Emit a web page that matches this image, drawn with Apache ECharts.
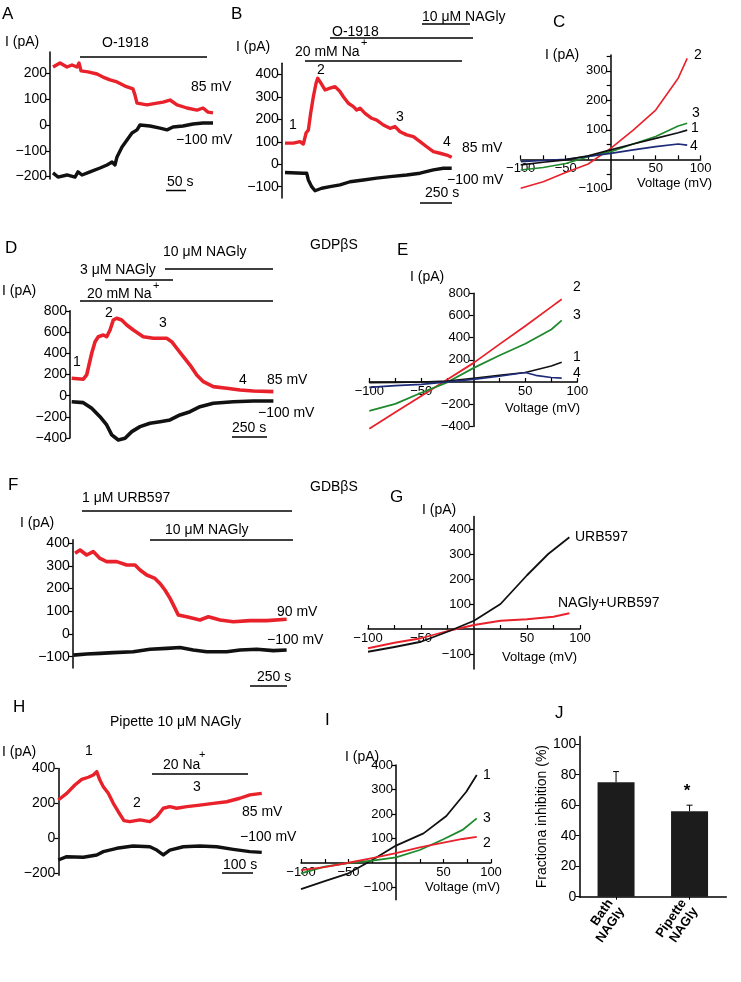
<!DOCTYPE html>
<html><head><meta charset="utf-8">
<script src="https://cdn.jsdelivr.net/npm/echarts@6/dist/echarts.min.js"></script>
<style>html,body{margin:0;padding:0;background:#fff}#c{width:741px;height:982px}</style>
</head><body><div id="c"></div>
<script>
// ---------------- DATA ----------------
// Panel A (time s, current pA)
const A_red_t = [7.5,25,42.5,55,67.5,72.5,77.5,95,117.5,132.5,150,167.5,187.5,207.5,212.5,217.5,242.5,267.5,282.5,300,317.5,342.5,367.5,382.5,395,407.5];
const A_red_v = [225,241,225,233,225,241,210,206,198,186,175,167,151,140,116,85,78,85,89,97,78,66,58,66,50,47];
const A_black_t = [7.5,20,42.5,62.5,70,80,100,125,142.5,155,162.5,167.5,180,192.5,205,217.5,225,250,275,292.5,307.5,332.5,357.5,382.5,407.5];
const A_black_v = [-186,-202,-194,-202,-182,-194,-182,-167,-155,-144,-155,-124,-85,-58,-31,-19,0,-4,-12,-19,-8,-4,4,8,8];
// Panel B
const B_red_t = [0,65,117,143,164,182,200,221,242,255,273,312,351,390,429,455,494,533,559,585,624,676,715,767,819,858,897,949,1001,1053,1105,1157,1209,1261,1300];
const B_red_v = [94,94,101,90,139,153,227,301,361,383,368,331,339,346,324,301,272,257,242,250,227,205,197,175,160,168,145,131,123,101,78,56,49,41,31];
const B_black_t = [0,143,169,182,208,234,286,351,429,507,611,715,819,949,1053,1157,1235,1300];
const B_black_v = [-37,-40,-40,-70,-100,-118,-107,-100,-92,-78,-70,-62,-55,-48,-40,-25,-18,-18];
// Panel C (voltage mV, current pA)
const C_mV = [-100,-75,-50,-25,0,25,50,75,85];
const C_red = [-98,-76,-45,-16,37,99,167,275,342];
const C_green = [-36,-28,-14,9,26,52,77,113,122];
const C_black = [-19,-10,-2,12,32,52,71,90,99];
const C_blue = [-8,-4,0,10,20,32,43,52,48];
// Panel D
const D_red_t = [12,95,119,155,179,202,238,262,286,309,333,369,405,452,523,595,690,726,762,809,857,905,952,1023,1119,1214,1309,1452];
const D_red_v = [164,155,195,400,509,556,572,556,619,713,730,713,666,619,556,541,541,509,447,368,289,195,132,85,70,54,44,38];
const D_black_t = [12,95,155,214,262,298,345,393,441,500,571,643,714,785,857,928,1023,1166,1309,1452];
const D_black_v = [-57,-66,-119,-198,-276,-370,-418,-402,-339,-292,-260,-245,-229,-182,-151,-104,-72,-57,-50,-50];
// Panel E
const E_mV = [-100,-75,-50,-25,0,25,50,75,85];
const E_red = [-421,-273,-126,22,170,339,505,677,745];
const E_green = [-261,-197,-97,-3,125,239,345,473,555];
const E_black = [-6,-3,0,9,34,61,85,145,179];
const E_blue_mV = [-100,-75,-50,-25,0,25,40,50,60,75,85];
const E_blue = [-48,-33,-21,0,24,52,72,85,60,40,35];
// Panel F
const F_red_t = [16,50,95,140,186,232,300,368,425,459,505,561,595,629,664,698,720,777,868,925,1005,1095,1209,1323,1459];
const F_red_v = [356,370,348,363,333,319,319,304,304,282,260,245,223,194,157,113,84,76,62,76,62,54,59,59,65];
const F_black_t = [4,95,186,277,413,527,641,732,822,914,1050,1141,1255,1368,1459];
const F_black_v = [-93,-88,-85,-82,-78,-67,-63,-59,-70,-78,-78,-70,-67,-73,-70];
// Panel G
const G_black_mV = [-100,-75,-50,-25,0,25,50,70,90];
const G_black = [-91,-72,-51,-11,33,100,215,300,367];
const G_red_mV = [-100,-75,-50,-25,0,25,50,75,90];
const G_red = [-77,-55,-37,-8,16,33,39,49,63];
// Panel H
const H_red_t = [0,27,53,75,96,112,123,133,144,160,176,192,210,229,261,293,315,336,357,379,411,453,496,539,581,613,651];
const H_red_v = [220,258,306,338,350,363,382,334,296,258,201,153,102,96,106,96,125,173,182,173,182,191,201,210,230,249,258];
const H_black_t = [0,27,80,123,144,187,239,293,315,336,357,400,453,507,560,613,651];
const H_black_v = [-123,-104,-107,-94,-75,-56,-43,-47,-66,-94,-66,-47,-43,-47,-62,-75,-79];
// Panel I
const I_black_mV = [-100,-75,-50,-25,0,29,53,74,85];
const I_black = [-107,-74,-42,12,71,121,192,291,359];
const I_green_mV = [-100,-75,-50,-25,0,25,50,70,85];
const I_green = [-42,-15,0,10,23,53,97,135,182];
const I_red_mV = [-100,-75,-50,-25,0,25,50,70,85];
const I_red = [-29,-17,1,20,40,64,83,98,107];
// Panel J
const J_cats = ['Bath\nNAGly', 'Pipette\nNAGly'];
const J_vals = [75, 56];
const J_err = [7, 4];

// ---------------- BUILD ----------------
const FONT = '"Liberation Sans", Arial, sans-serif';
const RED = '#e8212a', BLACK = '#111111', GREEN = '#1e8a2c', BLUE = '#1d2a78';
const grids = [], xAxes = [], yAxes = [], series = [], graphics = [];
const zip = (a, b) => a.map((v, i) => [v, b[i]]);
const minus = v => String(v).replace('-', '\u2212');

function addGrid(g, xa, ya) {
  grids.push(Object.assign({ outerBoundsMode: 'none', containLabel: false }, g));
  const i = grids.length - 1;
  xAxes.push(Object.assign({ gridIndex: i }, xa));
  yAxes.push(Object.assign({ gridIndex: i }, ya));
  return i;
}
const axLine = { show: true, lineStyle: { color: '#000', width: 1.5 } };
function tracePanel(box, xr, yr, labels, ticks) {
  return addGrid(box,
    { type: 'value', min: xr[0], max: xr[1], show: false },
    { type: 'value', min: yr[0], max: yr[1],
      axisLine: Object.assign({ onZero: false }, axLine),
      axisTick: { show: true, length: 4, inside: false, customValues: ticks || labels, lineStyle: { color: '#000', width: 1.2 } },
      axisLabel: { customValues: labels, formatter: minus, fontSize: 14, color: '#000', fontFamily: FONT, margin: 3 },
      splitLine: { show: false } });
}
// IV panels: both axes cross at (0 mV, 0 pA); shift each axis with an offset to the zero of the other
function ivPanel(box, xr, yr, xl, yl, xt, yt) {
  const yZeroFromBottom = (0 - yr[0]) / (yr[1] - yr[0]) * box.height;
  const xZeroFromLeft = (0 - xr[0]) / (xr[1] - xr[0]) * box.width;
  return addGrid(box,
    { type: 'value', min: xr[0], max: xr[1], position: 'bottom', offset: -yZeroFromBottom,
      axisLine: Object.assign({ onZero: false }, axLine),
      axisTick: { show: true, length: 4, inside: true, customValues: xt, lineStyle: { color: '#000', width: 1.2 } },
      axisLabel: { customValues: xl, formatter: minus, fontSize: 13, color: '#000', fontFamily: FONT, margin: 3 },
      splitLine: { show: false } },
    { type: 'value', min: yr[0], max: yr[1], position: 'left', offset: -xZeroFromLeft,
      axisLine: Object.assign({ onZero: false }, axLine),
      axisTick: { show: true, length: 4, inside: false, customValues: yt, lineStyle: { color: '#000', width: 1.2 } },
      axisLabel: { customValues: yl, formatter: minus, fontSize: 13, color: '#000', fontFamily: FONT, margin: 3 },
      splitLine: { show: false } });
}
function line(gi, data, color, w) {
  series.push({ type: 'line', xAxisIndex: gi, yAxisIndex: gi, data: data, showSymbol: false, symbol: 'none',
    clip: false, lineStyle: { color: color, width: w, join: 'round' }, itemStyle: { color: color }, animation: false });
}
function txt(x, y, s, o) {
  o = o || {};
  graphics.push({ type: 'text', x: x, y: y, silent: true,
    style: { text: s, fill: '#000', font: (o.bold ? 'bold ' : '') + (o.size || 14) + 'px ' + FONT,
      textAlign: o.align || 'left', textVerticalAlign: 'middle' } });
}
function hbar(x1, x2, y, w) {
  graphics.push({ type: 'line', silent: true, shape: { x1: x1, y1: y, x2: x2, y2: y }, style: { stroke: '#000', lineWidth: w || 1.5 } });
}

// Panel A
const gA = tracePanel({ left: 50, top: 52.1, width: 164.8, height: 127 }, [0, 412], [-210, 283], [-200, -100, 0, 100, 200]);
line(gA, zip(A_red_t, A_red_v), RED, 3.4);
line(gA, zip(A_black_t, A_black_v), BLACK, 3.4);
txt(2, 14, 'A', { size: 17 }); txt(5, 42, 'I (pA)');
txt(102, 43, 'O-1918'); hbar(80, 207, 57);
txt(191, 87, '85 mV'); txt(176, 140, '\u2212100 mV');
txt(167, 182, '50 s'); hbar(166, 186, 190.5);

// Panel B
const gB = tracePanel({ left: 281.8, top: 63.3, width: 171.2, height: 134.6 }, [-25, 1310], [-150, 450], [-100, 0, 100, 200, 300, 400]);
line(gB, zip(B_red_t, B_red_v), RED, 3.4);
line(gB, zip(B_black_t, B_black_v), BLACK, 3.4);
txt(231, 14, 'B', { size: 17 }); txt(236, 47, 'I (pA)');
txt(422, 17, '10 \u03bcM NAGly'); hbar(422, 470, 24);
txt(332, 32, 'O-1918'); hbar(330, 473, 38);
txt(295, 52, '20 mM Na'); txt(361, 43, '+', { size: 11 }); hbar(305, 462, 61);
txt(293, 125, '1', { align: 'center' }); txt(321, 70, '2', { align: 'center' });
txt(400, 117, '3', { align: 'center' }); txt(447, 142, '4', { align: 'center' });
txt(462, 148, '85 mV'); txt(447, 180, '\u2212100 mV');
txt(425, 193, '250 s'); hbar(420, 452, 203);

// Panel C
const gC = ivPanel({ left: 520.7, top: 54.9, width: 180, height: 133.9 }, [-100, 100], [-100, 354],
  [-100, -50, 50, 100], [-100, 100, 200, 300], [-100, -75, -50, -25, 25, 50, 75, 100], [-100, -50, 50, 100, 150, 200, 250, 300, 350]);
line(gC, zip(C_mV, C_red), RED, 1.6);
line(gC, zip(C_mV, C_green), GREEN, 1.6);
line(gC, zip(C_mV, C_blue), BLUE, 1.6);
line(gC, zip(C_mV, C_black), BLACK, 1.6);
txt(553, 22, 'C', { size: 17 }); txt(545, 55, 'I (pA)');
txt(698, 55, '2', { align: 'center' }); txt(696, 113, '3', { align: 'center' });
txt(695, 128, '1', { align: 'center' }); txt(694, 146, '4', { align: 'center' });
txt(637, 183, 'Voltage (mV)', { size: 13 });

// Panel D
const gD = tracePanel({ left: 70, top: 310.8, width: 204.5, height: 127.3 }, [0, 1460], [-400, 800], [-400, -200, 0, 200, 400, 600, 800]);
line(gD, zip(D_red_t, D_red_v), RED, 3.6);
line(gD, zip(D_black_t, D_black_v), BLACK, 3.6);
txt(5, 248, 'D', { size: 17 });
txt(163, 252, '10 \u03bcM NAGly'); hbar(165, 273, 269);
txt(80, 270, '3 \u03bcM NAGly'); hbar(105, 173, 280);
txt(2, 291, 'I (pA)');
txt(87, 294, '20 mM Na'); txt(153, 286, '+', { size: 11 }); hbar(80, 273, 301);
txt(310, 245, 'GDP\u03b2S');
txt(77, 362, '1', { align: 'center' }); txt(109, 313, '2', { align: 'center' });
txt(163, 323, '3', { align: 'center' }); txt(243, 380, '4', { align: 'center' });
txt(267, 380, '85 mV'); txt(258, 413, '\u2212100 mV');
txt(232, 428, '250 s'); hbar(232, 267, 437);

// Panel E
const gE = ivPanel({ left: 369.3, top: 293.2, width: 208, height: 133.2 }, [-100, 100], [-400, 800],
  [-100, -50, 50, 100], [-400, -200, 200, 400, 600, 800], [-100, -75, -50, -25, 25, 50, 75, 100], [-400, -200, 200, 400, 600, 800]);
line(gE, zip(E_mV, E_red), RED, 1.8);
line(gE, zip(E_mV, E_green), GREEN, 1.8);
line(gE, zip(E_mV, E_black), BLACK, 1.6);
line(gE, zip(E_blue_mV, E_blue), BLUE, 1.6);
txt(397, 250, 'E', { size: 17 }); txt(410, 277, 'I (pA)');
txt(577, 287, '2', { align: 'center' }); txt(577, 315, '3', { align: 'center' });
txt(577, 357, '1', { align: 'center' }); txt(577, 373, '4', { align: 'center' });
txt(505, 408, 'Voltage (mV)', { size: 13 });

// Panel F
const gF = tracePanel({ left: 72.7, top: 539.8, width: 214.1, height: 128.3 }, [0, 1460], [-150, 415], [-100, 0, 100, 200, 300, 400]);
line(gF, zip(F_red_t, F_red_v), RED, 3.6);
line(gF, zip(F_black_t, F_black_v), BLACK, 3.6);
txt(8, 485, 'F', { size: 17 });
txt(82, 498, '1 \u03bcM URB597'); hbar(82, 292, 511);
txt(20, 523, 'I (pA)');
txt(165, 530, '10 \u03bcM NAGly'); hbar(150, 293, 540);
txt(310, 487, 'GDB\u03b2S');
txt(277, 612, '90 mV'); txt(267, 640, '\u2212100 mV');
txt(257, 677, '250 s'); hbar(250, 287, 686);

// Panel G
const gG = ivPanel({ left: 368, top: 516.5, width: 212, height: 152.5 }, [-100, 100], [-160, 450],
  [-100, -50, 50, 100], [-100, 100, 200, 300, 400], [-100, -75, -50, -25, 25, 50, 75, 100], [-100, 100, 200, 300, 400]);
line(gG, zip(G_red_mV, G_red), RED, 1.8);
line(gG, zip(G_black_mV, G_black), BLACK, 1.8);
txt(390, 497, 'G', { size: 17 }); txt(422, 510, 'I (pA)');
txt(575, 537, 'URB597'); txt(558, 603, 'NAGly+URB597');
txt(502, 657, 'Voltage (mV)', { size: 13 });

// Panel H
const gH = tracePanel({ left: 58.3, top: 768.5, width: 206.25, height: 106.75 }, [0, 660], [-210, 400], [-200, 0, 200, 400]);
line(gH, zip(H_red_t, H_red_v), RED, 3.4);
line(gH, zip(H_black_t, H_black_v), BLACK, 3.4);
txt(13, 707, 'H', { size: 17 });
txt(110, 722, 'Pipette 10 \u03bcM NAGly');
txt(2, 752, 'I (pA)');
txt(89, 751, '1', { align: 'center' }); txt(137, 803, '2', { align: 'center' }); txt(197, 787, '3', { align: 'center' });
txt(163, 765, '20 Na'); txt(199, 755, '+', { size: 11 }); hbar(152, 248, 774);
txt(242, 812, '85 mV'); txt(240, 837, '\u2212100 mV');
txt(223, 865, '100 s'); hbar(222, 253, 873);

// Panel I
const gI = ivPanel({ left: 301, top: 765, width: 190, height: 134.75 }, [-100, 100], [-150, 400],
  [-100, -50, 50, 100], [-100, 100, 200, 300, 400], [-100, -75, -50, -25, 25, 50, 75, 100], [-100, 100, 200, 300, 400]);
line(gI, zip(I_black_mV, I_black), BLACK, 1.8);
line(gI, zip(I_green_mV, I_green), GREEN, 1.8);
line(gI, zip(I_red_mV, I_red), RED, 1.8);
txt(325, 720, 'I', { size: 17 }); txt(345, 757, 'I (pA)');
txt(487, 775, '1', { align: 'center' }); txt(487, 818, '3', { align: 'center' }); txt(487, 843, '2', { align: 'center' });
txt(425, 887, 'Voltage (mV)', { size: 13 });

// Panel J
const gJ = addGrid({ left: 579.3, top: 736.5, width: 147, height: 160.2 },
  { type: 'category', data: J_cats,
    axisLine: { show: true, lineStyle: { color: '#000', width: 1.5 } },
    axisTick: { show: true, alignWithLabel: true, length: 3, lineStyle: { color: '#000' } },
    axisLabel: { rotate: 55, fontSize: 13, fontWeight: 'bold', color: '#000', fontFamily: FONT, margin: 8, lineHeight: 14 } },
  { type: 'value', min: 0, max: 105,
    name: 'Fractiona inhibition (%)', nameLocation: 'middle', nameGap: 22, nameRotate: 90,
    nameTextStyle: { fontSize: 14, color: '#000', fontFamily: FONT },
    axisLine: { show: true, lineStyle: { color: '#000', width: 1.5 } },
    axisTick: { show: true, length: 4, customValues: [0, 20, 40, 60, 80, 100], lineStyle: { color: '#000' } },
    axisLabel: { customValues: [0, 20, 40, 60, 80, 100], fontSize: 14, color: '#000', fontFamily: FONT, margin: 3 },
    splitLine: { show: false } });
series.push({ type: 'bar', xAxisIndex: gJ, yAxisIndex: gJ, data: J_vals, barWidth: 37,
  itemStyle: { color: '#1c1c1c' }, animation: false });
series.push({ type: 'custom', xAxisIndex: gJ, yAxisIndex: gJ, animation: false,
  data: J_vals.map((v, i) => [i, v, J_err[i]]),
  renderItem: function (params, api) {
    const x = api.value(0), y = api.value(1), e = api.value(2);
    const b = api.coord([x, y]), t = api.coord([x, y + e]);
    return { type: 'group', children: [
      { type: 'line', shape: { x1: b[0], y1: b[1], x2: t[0], y2: t[1] }, style: { stroke: '#000', lineWidth: 1 } },
      { type: 'line', shape: { x1: t[0] - 3, y1: t[1], x2: t[0] + 3, y2: t[1] }, style: { stroke: '#000', lineWidth: 1 } }
    ] };
  } });
txt(555, 713, 'J', { size: 17 });
txt(687, 791, '*', { align: 'center', size: 17, bold: true });

const chart = echarts.init(document.getElementById('c'), null, { renderer: 'canvas' });
chart.setOption({
  backgroundColor: '#fff', animation: false,
  textStyle: { fontFamily: FONT },
  grid: grids, xAxis: xAxes, yAxis: yAxes, series: series, graphic: graphics
});
</script></body></html>
